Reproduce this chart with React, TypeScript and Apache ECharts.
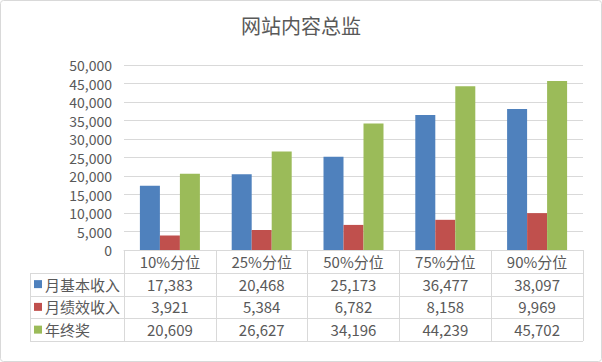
import React, { useEffect, useRef } from "react";
import * as echarts from "echarts";

const categories = ["10%分位", "25%分位", "50%分位", "75%分位", "90%分位"];
const seriesNames = ["月基本收入", "月绩效收入", "年终奖"];
const baseIncome = [17383, 20468, 25173, 36477, 38097];
const perfIncome = [3921, 5384, 6782, 8158, 9969];
const yearBonus = [20609, 26627, 34196, 44239, 45702];
const colors = ["#4F81BD", "#C0504D", "#9BBB59"];

const W = 602;
const H = 362;
const PLOT_L = 124;
const PLOT_R = 583;
const PLOT_T = 65;
const PLOT_B = 250;
const ROW_H = 22.75;
const TABLE_L = 30;
const FONT = "'Noto Sans CJK SC', 'Noto Sans', sans-serif";
const LINE = "#D9D9D9";
const TEXT = "#595959";

const fmt = (v: number) => v.toLocaleString("en-US");

export default function App() {
  const ref = useRef<HTMLDivElement>(null);
  useEffect(() => {
    document.body.style.margin = "0";
    if (!ref.current) return;
    const chart = echarts.init(ref.current, undefined, { renderer: "svg" });
    const allSeries = [baseIncome, perfIncome, yearBonus];
    const rowYs = [1, 2, 3, 4].map((k) => PLOT_B + ROW_H * k);
    const graphics: any[] = [
      {
        type: "rect",
        shape: { x: 0.5, y: 0.5, width: W - 1, height: H - 1, r: 3 },
        style: { fill: "none", stroke: LINE, lineWidth: 1 },
        silent: true,
      },
      ...rowYs.map((y) => ({
        type: "line",
        shape: { x1: TABLE_L, y1: Math.round(y) + 0.5, x2: PLOT_R, y2: Math.round(y) + 0.5 },
        style: { stroke: LINE, lineWidth: 1 },
        silent: true,
      })),
      {
        type: "line",
        shape: { x1: TABLE_L + 0.5, y1: Math.round(rowYs[0]) + 0.5, x2: TABLE_L + 0.5, y2: Math.round(rowYs[3]) + 0.5 },
        style: { stroke: LINE, lineWidth: 1 },
        silent: true,
      },
    ];
    chart.setOption({
      animation: false,
      color: colors,
      title: {
        text: "网站内容总监",
        left: "center",
        top: 10,
        textStyle: { fontFamily: FONT, fontSize: 20, fontWeight: "normal", color: TEXT },
      },
      legend: {
        orient: "vertical",
        left: 34,
        top: PLOT_B + ROW_H,
        padding: 0,
        itemGap: 0,
        itemWidth: 8,
        itemHeight: 8,
        icon: "rect",
        selectedMode: false,
        data: seriesNames,
        textStyle: { fontFamily: FONT, fontSize: 15, color: TEXT, lineHeight: ROW_H, padding: [0, 0, 0, -2] },
      },
      grid: { left: PLOT_L, right: W - PLOT_R, top: PLOT_T, bottom: H - PLOT_B },
      xAxis: {
        type: "category",
        data: categories,
        axisLine: { show: true, lineStyle: { color: LINE } },
        axisTick: { show: true, length: ROW_H * 4, lineStyle: { color: LINE } },
        axisLabel: {
          margin: 0,
          interval: 0,
          formatter: (val: string, idx: number) =>
            [`{h|${val}}`, ...allSeries.map((s) => `{v|${fmt(s[idx])}}`)].join("\n"),
          rich: {
            h: { fontFamily: FONT, fontSize: 15, color: TEXT, lineHeight: ROW_H },
            v: { fontFamily: FONT, fontSize: 15, color: TEXT, lineHeight: ROW_H },
          },
        },
      },
      yAxis: {
        type: "value",
        min: 0,
        max: 50000,
        interval: 5000,
        axisLine: { show: false },
        axisTick: { show: false },
        splitLine: { lineStyle: { color: LINE } },
        axisLabel: { margin: 12, fontFamily: FONT, fontSize: 14, color: TEXT, formatter: (v: number) => fmt(v) },
      },
      series: seriesNames.map((name, i) => ({
        name,
        type: "bar",
        data: allSeries[i],
        barWidth: 20,
        barGap: "0%",
        itemStyle: { color: colors[i] },
      })),
      graphic: graphics,
    });
    return () => chart.dispose();
  }, []);
  return <div ref={ref} style={{ width: W, height: H }} />;
}
